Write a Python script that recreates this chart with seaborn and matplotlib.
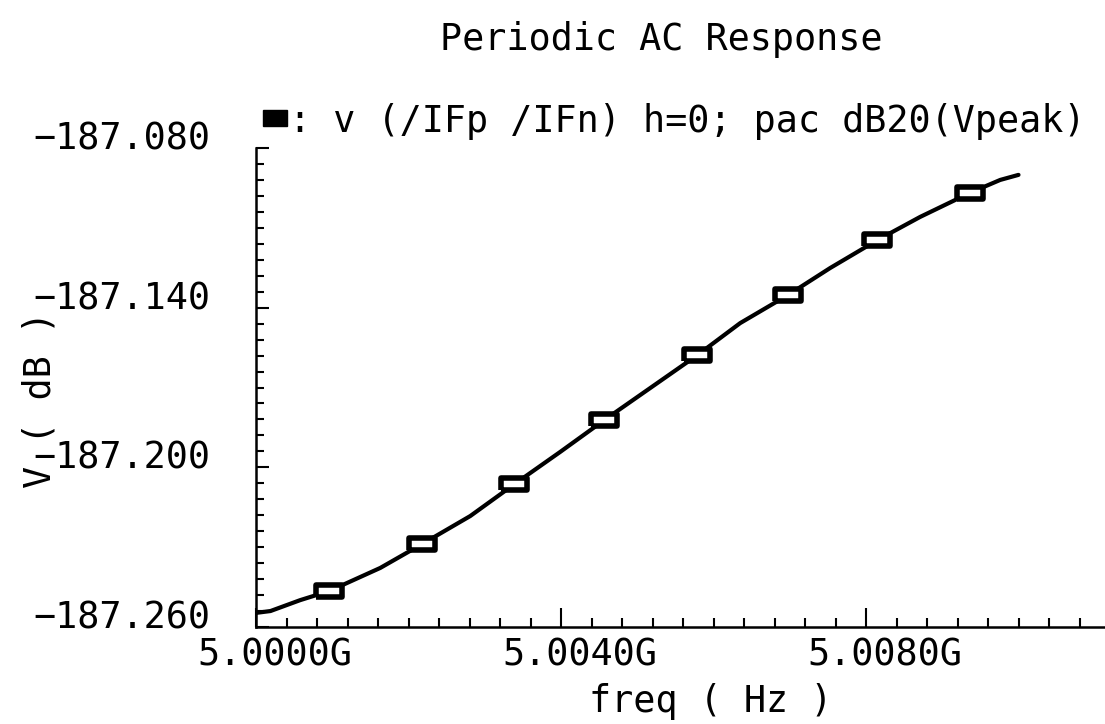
import seaborn as sns
import matplotlib.pyplot as plt
from matplotlib.patches import Patch
from matplotlib.ticker import FixedLocator, FixedFormatter, MultipleLocator, NullFormatter
from matplotlib.transforms import ScaledTranslation

# frequency offset from 5.0000 GHz (MHz) and PAC response, dB20(Vpeak)
freq_mhz = [0.0, 0.19, 0.58, 0.96, 1.63, 2.18, 2.81, 3.39, 3.99, 4.57,
            5.17, 5.79, 6.35, 6.98, 7.53, 8.15, 8.71, 9.36, 9.76, 10.0]
vpeak_db = [-187.2547, -187.2540, -187.2499, -187.2465, -187.2378, -187.2288,
            -187.2183, -187.2063, -187.1942, -187.1822, -187.1702, -187.1578,
            -187.1458, -187.1352, -187.1251, -187.1146, -187.1059, -187.0969,
            -187.0920, -187.0901]
marker_idx = [3, 5, 7, 9, 11, 13, 15, 17]

xtick_hz = [5.000e9, 5.004e9, 5.008e9]
xtick_labels = ["5.0000G", "5.0040G", "5.0080G"]
ytick_db = [-187.26, -187.20, -187.14, -187.08]
ytick_labels = ["\u2212187.260", "\u2212187.200", "\u2212187.140", "\u2212187.080"]

title = "Periodic AC Response"
legend_label = ": v (/IFp /IFn) h=0; pac dB20(Vpeak)"

sns.set_style("ticks")
plt.rcParams['font.family'] = ['DejaVu Sans Mono', 'DejaVu Sans']
for key in ["text.color", "axes.labelcolor", "xtick.color", "ytick.color"]:
    plt.rcParams[key] = "black"
FS = 26.5

freq_hz = [5.0e9 + f * 1e6 for f in freq_mhz]

fig = plt.figure(figsize=(11.05, 7.24), dpi=100)
ax = fig.add_axes([256 / 1105, 1 - 627 / 724, 849 / 1105, 479 / 724])

sns.lineplot(x=freq_hz, y=vpeak_db, ax=ax, color="black", linewidth=3.0,
             marker=[(-1, -0.42), (1, -0.42), (1, 0.42), (-1, 0.42), (-1, -0.42)],
             markersize=19, markerfacecolor="white", markeredgecolor="black",
             markeredgewidth=4.0, markevery=marker_idx, sort=False)

ax.set_xlim(5.0e9, 5.0e9 + 849 / 76.25 * 1e6)
ax.set_ylim(-187.26, -187.08)

# --- ticks ---
ax.xaxis.set_major_locator(FixedLocator(xtick_hz))
ax.xaxis.set_major_formatter(FixedFormatter(xtick_labels))
ax.xaxis.set_minor_locator(MultipleLocator(0.4e6))
ax.xaxis.set_minor_formatter(NullFormatter())
ax.yaxis.set_major_locator(FixedLocator(ytick_db))
ax.yaxis.set_major_formatter(FixedFormatter(ytick_labels))
ax.yaxis.set_minor_locator(MultipleLocator(0.006))
ax.yaxis.set_minor_formatter(NullFormatter())

ax.tick_params(which="both", bottom=True, left=True, top=False, right=False)
ax.tick_params(axis="x", which="major", direction="in", length=13.5, width=1.5,
               pad=7, labelsize=FS, colors="black")
ax.tick_params(axis="x", which="minor", direction="in", length=6.5, width=1.5,
               colors="black")
ax.tick_params(axis="y", which="major", direction="in", length=9.5, width=1.5,
               pad=33, labelsize=FS, colors="black")
ax.tick_params(axis="y", which="minor", direction="in", length=6, width=1.5,
               colors="black")

for lab in ax.get_xticklabels():
    lab.set_transform(lab.get_transform() + ScaledTranslation(0.19, 0, fig.dpi_scale_trans))
for lab in ax.get_yticklabels():
    lab.set_transform(lab.get_transform() + ScaledTranslation(0, 0.13, fig.dpi_scale_trans))

sns.despine(ax=ax)
for side in ["left", "bottom"]:
    ax.spines[side].set_linewidth(1.8)
    ax.spines[side].set_color("black")

# --- labels ---
ax.set_xlabel("freq ( Hz )", fontsize=FS)
ax.xaxis.set_label_coords(0.536, -0.117)
ax.set_ylabel("V ( dB )", fontsize=FS)
ax.yaxis.set_label_coords(-0.233, 0.474)
fig.text(661 / 1105, 1 - 40 / 724, title, fontsize=FS, ha="center", va="center")

handle = Patch(facecolor="black", edgecolor="black")
ax.legend([handle], [legend_label], loc="center left",
          bbox_to_anchor=(263 / 1105, 1 - 121 / 724), bbox_transform=fig.transFigure,
          frameon=False, fontsize=FS, borderpad=0, borderaxespad=0,
          handlelength=0.65, handleheight=0.3, handletextpad=0.05)

fig.savefig("out.png", dpi=100)
